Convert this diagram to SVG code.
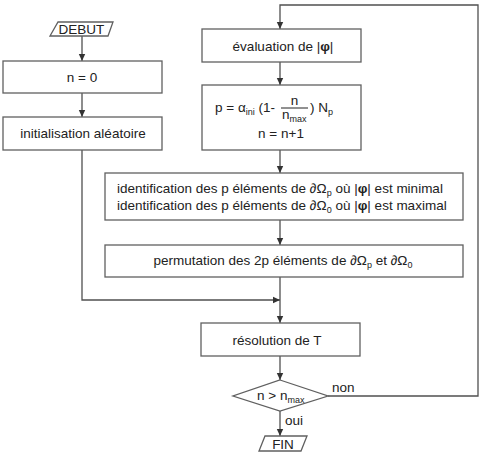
<svg xmlns="http://www.w3.org/2000/svg" width="481" height="467" viewBox="0 0 481 467">
<defs>
<marker id="arr" markerWidth="8" markerHeight="8" refX="7" refY="4" orient="auto" markerUnits="userSpaceOnUse">
<path d="M0,0.8 L7,4 L0,7.2 Z" fill="#333"/>
</marker>
</defs>
<style>
.box{fill:#fff;stroke:#606060;stroke-width:1.3}
.ln{fill:none;stroke:#505050;stroke-width:1.3}
text{font-family:"Liberation Sans",Arial,sans-serif;font-size:13.5px;fill:#222}
.m{text-anchor:middle}
.s{font-size:9px}
.b{font-weight:bold}
</style>
<rect width="481" height="467" fill="#fff"/>
<g id="connectors">
<line class="ln" x1="82" y1="36" x2="82" y2="61" marker-end="url(#arr)"/>
<line class="ln" x1="82" y1="93" x2="82" y2="117" marker-end="url(#arr)"/>
<polyline class="ln" points="82,150 82,300 280,300" marker-end="url(#arr)"/>
<line class="ln" x1="280" y1="62" x2="280" y2="85" marker-end="url(#arr)"/>
<line class="ln" x1="280" y1="150" x2="280" y2="173" marker-end="url(#arr)"/>
<line class="ln" x1="280" y1="220" x2="280" y2="245" marker-end="url(#arr)"/>
<line class="ln" x1="280" y1="277" x2="280" y2="323" marker-end="url(#arr)"/>
<line class="ln" x1="280" y1="356" x2="280" y2="380" marker-end="url(#arr)"/>
<line class="ln" x1="280" y1="411" x2="280" y2="436" marker-end="url(#arr)"/>
<polyline class="ln" points="328,396 478,396 478,5 280,5 280,29" marker-end="url(#arr)"/>
<text x="332" y="392">non</text>
<text x="285" y="425">oui</text>
</g>
<g id="debut">
<polygon class="box" points="58,22 113,22 108,36 50,36"/>
<text class="m" x="81.5" y="33.5">DEBUT</text>
</g>
<g id="init-n">
<rect class="box" x="3" y="61" width="159" height="32"/>
<text class="m" x="82" y="82">n = 0</text>
</g>
<g id="init-random">
<rect class="box" x="3" y="117" width="159" height="33"/>
<text class="m" x="83" y="138">initialisation aléatoire</text>
</g>
<g id="evaluation">
<rect class="box" x="202" y="29" width="159" height="33"/>
<text class="m" x="283" y="51">évaluation de |<tspan class="b">φ</tspan>|</text>
</g>
<g id="update-p">
<rect class="box" x="202" y="85" width="159" height="65"/>
<text x="215" y="112">p = α<tspan class="s" dy="3">ini</tspan><tspan dy="-3"> (1-</tspan></text>
<line x1="281" y1="108" x2="308" y2="108" stroke="#222" stroke-width="1"/>
<text class="m" x="294.5" y="105">n</text>
<text x="282" y="119">n<tspan class="s" dy="3">max</tspan></text>
<text x="310" y="112">) N<tspan class="s" dy="3">p</tspan></text>
<text class="m" x="281" y="138">n = n+1</text>
</g>
<g id="identification">
<rect class="box" x="105" y="173" width="358" height="47"/>
<text x="117" y="193">identification des p éléments de ∂Ω<tspan class="s" dy="3">p</tspan><tspan dy="-3"> où |</tspan><tspan class="b">φ</tspan>| est minimal</text>
<text x="117" y="210">identification des p éléments de ∂Ω<tspan class="s" dy="3">0</tspan><tspan dy="-3"> où |</tspan><tspan class="b">φ</tspan>| est maximal</text>
</g>
<g id="permutation">
<rect class="box" x="105" y="245" width="358" height="32"/>
<text class="m" x="283" y="265">permutation des 2p éléments de ∂Ω<tspan class="s" dy="3">p</tspan><tspan dy="-3"> et ∂Ω</tspan><tspan class="s" dy="3">0</tspan></text>
</g>
<g id="resolution">
<rect class="box" x="201" y="323" width="159" height="33"/>
<text class="m" x="277" y="345">résolution de T</text>
</g>
<g id="test">
<polygon class="box" points="280,380 328,396 280,411 233,396"/>
<text x="257" y="400">n &gt; n<tspan class="s" dy="3">max</tspan></text>
</g>
<g id="fin">
<polygon class="box" points="265,436 307,436 301,451 259,451"/>
<text class="m" x="283" y="449">FIN</text>
</g>
</svg>
